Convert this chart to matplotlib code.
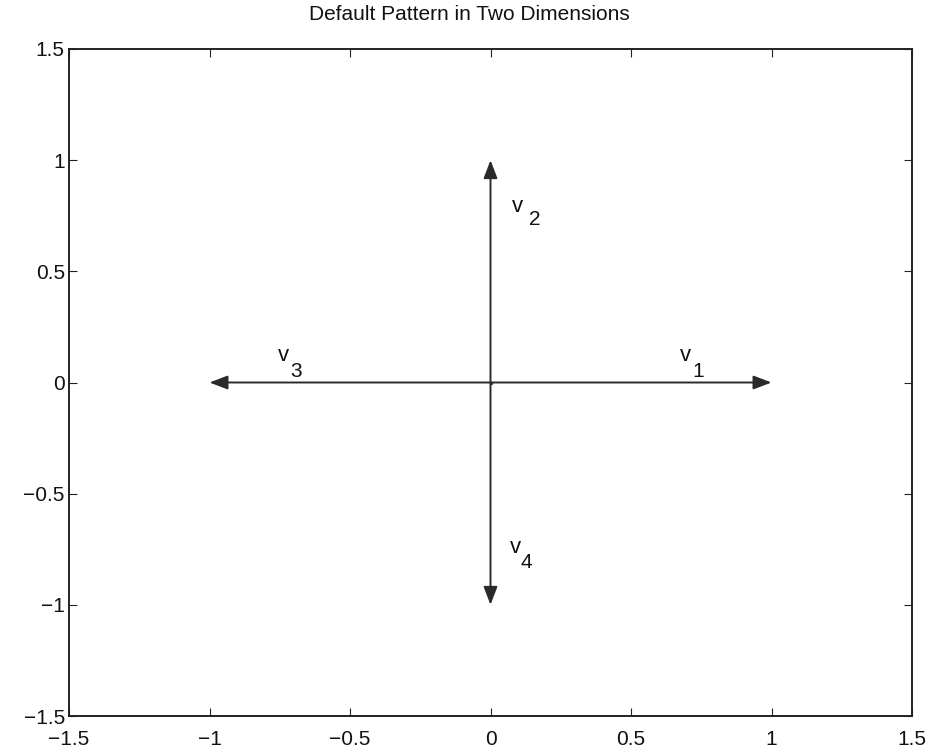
import matplotlib
matplotlib.use("Agg")
import matplotlib.pyplot as plt

plt.rcParams['font.family'] = ['Liberation Sans', 'DejaVu Sans']

vec_x = [1, 0, -1, 0]
vec_y = [0, 1, 0, -1]
labels = ['1', '2', '3', '4']
# positions of the "v" and of its subscript, in data units
v_x = [0.674, 0.077, -0.756, 0.07]
v_y = [0.095, 0.767, 0.095, -0.767]
sub_x = [0.717, 0.137, -0.714, 0.105]
sub_y = [0.025, 0.708, 0.025, -0.834]
ticks = [-1.5, -1, -0.5, 0, 0.5, 1, 1.5]
tick_labels = ['\u22121.5', '\u22121', '\u22120.5', '0', '0.5', '1', '1.5']

fig = plt.figure(figsize=(9.31, 7.55), dpi=100)
ax = fig.add_axes([69 / 931, 39 / 755, 843 / 931, 667 / 755])
ax.set_xlim(-1.5, 1.5)
ax.set_ylim(-1.5, 1.5)
ax.set_xticks(ticks)
ax.set_yticks(ticks)
ax.set_xticklabels(tick_labels)
ax.set_yticklabels(tick_labels)
ax.tick_params(direction='in', top=True, right=True, length=6, labelsize=15,
               color='#222222', labelcolor='#111111')
ax.tick_params(axis='x', pad=10)
ax.tick_params(axis='y', pad=3)
for s in ax.spines.values():
    s.set_linewidth(1.4)
    s.set_color('#222222')

for vx, vy in zip(vec_x, vec_y):
    ax.annotate('', xy=(vx, vy), xytext=(0, 0),
                arrowprops=dict(arrowstyle='-|>,head_length=1.1,head_width=0.42',
                                color='#2a2a2a', lw=1.4, shrinkA=0, shrinkB=0))

for lab, a, b, c, d in zip(labels, v_x, v_y, sub_x, sub_y):
    ax.text(a, b, 'v', fontsize=16, color='#111111', va='baseline')
    ax.text(c, d, lab, fontsize=15, color='#111111', va='baseline')

ax.plot([0], [0], marker='.', color='#444444', markersize=3)
fig.text(469 / 931, 1 - 15 / 755, 'Default Pattern in Two Dimensions', fontsize=15,
         color='#111111', ha='center', va='center')
fig.savefig('out.png', dpi=100)
